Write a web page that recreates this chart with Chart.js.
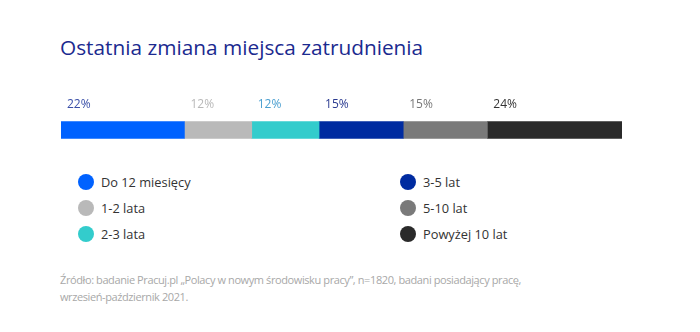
<!DOCTYPE html>
<html>
<head>
<meta charset="utf-8">
<script src="https://cdn.jsdelivr.net/npm/chart.js@4"></script>
<style>
  html, body { margin: 0; padding: 0; background: #fff; }
  body { width: 700px; height: 332px; position: relative; overflow: hidden; font-family: "Open Sans", sans-serif; }
  #title { position: absolute; left: 60px; top: 33px; font-size: 20.8px; color: #1b2a8f; white-space: nowrap; }
  #barWrap { position: absolute; left: 0; top: 90px; width: 700px; height: 60px; }
  .leg { position: absolute; font-size: 12.8px; color: #333; white-space: nowrap; line-height: 16px; }
  .leg i { position: absolute; left: -23px; top: 0px; width: 16px; height: 16px; border-radius: 50%; }
  #note { position: absolute; left: 60px; top: 271px; font-size: 11px; letter-spacing: -0.4px; color: #a8a8a8; line-height: 17px; width: 600px; }
</style>
</head>
<body>
<div id="title">Ostatnia zmiana miejsca zatrudnienia</div>
<div id="barWrap"><canvas id="barChart"></canvas></div>
<div id="legend"></div>
<div id="note">Źródło: badanie Pracuj.pl „Polacy w nowym środowisku pracy”, n=1820, badani posiadający pracę,<br>wrzesień-październik 2021.</div>
<script>
const categories = ['Do 12 miesięcy', '1-2 lata', '2-3 lata', '3-5 lat', '5-10 lat', 'Powyżej 10 lat'];
const values = [22, 12, 12, 15, 15, 24];
const colors = ['#0062ff', '#b9b9b9', '#33cccc', '#002ba0', '#7a7a7a', '#2a2a2a'];
const labelColors = ['#3a4fa8', '#b8b8b8', '#4a9fd0', '#2a3a90', '#777777', '#333333'];

// legend: two columns, three rows, column-major
const legend = document.getElementById('legend');
categories.forEach((name, i) => {
    const col = Math.floor(i / 3), row = i % 3;
    const d = document.createElement('div');
    d.className = 'leg';
    d.style.left = (col === 0 ? 101 : 423) + 'px';
    d.style.top = (174 + row * 26) + 'px';
    d.innerHTML = '<i style="background:' + colors[i] + '"></i>' + name;
    legend.appendChild(d);
});

const segmentLabels = {
    id: 'segmentLabels',
    afterDatasetsDraw(chart) {
        const ctx = chart.ctx;
        ctx.save();
        ctx.font = '12px "Open Sans"';
        ctx.textBaseline = 'middle';
        ctx.textAlign = 'left';
        chart.data.datasets.forEach((ds, i) => {
            const bar = chart.getDatasetMeta(i).data[0];
            const left = Math.min(bar.x, bar.base);
            ctx.fillStyle = labelColors[i];
            ctx.fillText(values[i] + '%', left + 6, bar.y - 25);
        });
        ctx.restore();
    }
};

const barCtx = document.getElementById('barChart').getContext('2d');
new Chart(barCtx, {
    type: 'bar',
    data: {
        labels: [''],
        datasets: categories.map((name, i) => ({
            label: name,
            data: [values[i]],
            backgroundColor: colors[i],
            borderWidth: 0,
            barThickness: 17
        }))
    },
    options: {
        indexAxis: 'y',
        responsive: true,
        maintainAspectRatio: false,
        animation: false,
        layout: { padding: { left: 61, right: 78, top: 20, bottom: 0 } },
        scales: {
            x: { stacked: true, min: 0, max: 100, display: false },
            y: { stacked: true, display: false }
        },
        plugins: {
            legend: { display: false },
            tooltip: { enabled: true }
        }
    },
    plugins: [segmentLabels]
});
</script>
</body>
</html>
